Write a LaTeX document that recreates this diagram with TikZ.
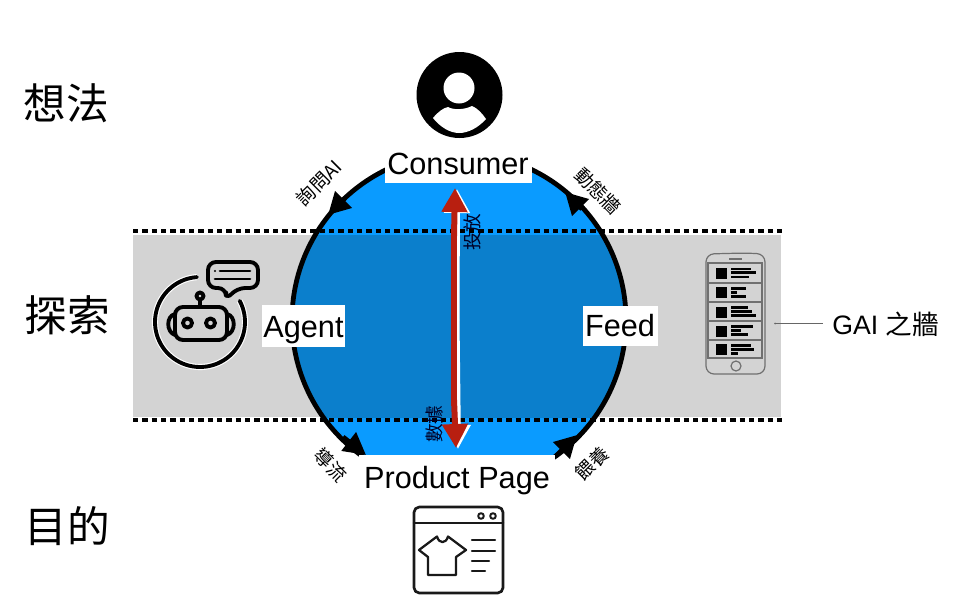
\documentclass[tikz,border=0pt]{standalone}
\usepackage{fontspec}
\setmainfont{Liberation Sans}
\newfontfamily\cjkfont{Noto Sans CJK TC}
\usetikzlibrary{arrows.meta}
\definecolor{skyb}{HTML}{0A9BFF}
\definecolor{darkb}{HTML}{0B7FCC}
\definecolor{bandg}{HTML}{D3D3D3}
\definecolor{arrred}{HTML}{B81F10}
\definecolor{phoneg}{HTML}{707070}
\tikzset{
  px/.style={x=0.75pt,y=-0.75pt},
  namebox/.style={fill=white,inner sep=0pt,font=\fontsize{23}{25}\selectfont},
  nametext/.style={inner sep=0pt,font=\fontsize{23}{25}\selectfont},
  rowlabel/.style={inner sep=0pt,font=\cjkfont\fontsize{32}{34}\selectfont},
  smalllabel/.style={inner sep=0pt,font=\cjkfont\fontsize{14}{16}\selectfont},
  doted/.style={line width=3.6pt,dash pattern=on 4.1pt off 2.9pt},
  looparrow/.style={line width=3.6pt,-{Triangle[length=16.5pt,width=17pt]}},
  redarrow/.style={line width=4.5pt,-{Triangle[length=18pt,width=18.5pt]},arrred},
  whitearrow/.style={line width=4.5pt,-{Triangle[length=18pt,width=18.5pt]},white},
  icon/.style={line width=2.9pt,line join=round,line cap=round},
  halo/.style={line width=4.6pt,white,line join=round},
  pageicon/.style={line width=2pt,line join=round,line cap=round,black!90},
  rowbar/.style={line width=1.9pt,black},
}
\begin{document}
\begin{tikzpicture}[px]
\useasboundingbox (0,0) rectangle (960,607);
\coordinate (c) at (459,320);
\fill[bandg] (133,235) rectangle (781,417);
\fill[skyb] (c) circle[radius=167];
\begin{scope}
  \clip (133,235) rectangle (781,417);
  \fill[darkb] (c) circle[radius=167];
\end{scope}
\draw[line width=3.6pt] (c) circle[radius=167];
% dotted boundaries
\coordinate (d1a) at (133,231); \coordinate (d1b) at (784,231);
\coordinate (d2a) at (133,420); \coordinate (d2b) at (784,420);
\draw[doted] (d1a) -- (d1b);
\draw[doted] (d2a) -- (d2b);
% loop arrows
\coordinate (a1s) at (345,198); \coordinate (a1e) at (328,215);
\coordinate (a2s) at (582,209); \coordinate (a2e) at (565,192);
\coordinate (a3s) at (343,437); \coordinate (a3e) at (366,455);
\coordinate (a4s) at (556,456); \coordinate (a4e) at (577,435);
\draw[looparrow] (a1s) -- (a1e);
\draw[looparrow] (a2s) -- (a2e);
% boxes
\node[namebox,minimum width=110.5pt,minimum height=25.5pt] (consumer) at (458.5,166) {};
\node[namebox,minimum width=147pt,minimum height=31pt] (product) at (457,476) {};
\draw[looparrow] (a3s) -- (a3e);
\draw[looparrow] (a4s) -- (a4e);
\node[nametext] (consumertxt) at (458,164) {Consumer};
\node[nametext] (producttxt) at (457,480.5) {Product Page};
\node[namebox,minimum width=62.5pt,minimum height=31.5pt] (agent) at (303.5,326) {};
\node[nametext] (agenttxt) at (303.5,330.5) {Agent};
\node[namebox,minimum width=56pt,minimum height=30pt] (feed) at (620.5,326) {};
\node[nametext] (feedtxt) at (620,326) {Feed};
% red arrow
\coordinate (rt) at (454,236); \coordinate (rte) at (455,188);
\coordinate (rb) at (454,400); \coordinate (rbe) at (456,448);
\coordinate (wm) at (456.5,320); \coordinate (wte) at (457,189);
\coordinate (wbe) at (458,449);
\draw[whitearrow] (wm) -- (wte);
\draw[whitearrow] (wm) -- (wbe);
\draw[redarrow] (rt) -- (rte);
\draw[redarrow] (rb) -- (rbe);
\draw[line width=4.5pt,arrred] (rt) -- (rb);
% labels
\node[rowlabel] (xiangfa) at (66,103) {想法};
\node[rowlabel] (tansuo) at (67,315) {探索};
\node[rowlabel] (mude) at (67,526) {目的};
\node[smalllabel,rotate=45] (l1) at (319,183) {詢問AI};
\node[smalllabel,rotate=-45] (l2) at (598,191) {動態牆};
\node[smalllabel,rotate=-45] (l3) at (331,465) {導流};
\node[smalllabel,rotate=45] (l4) at (592,463) {餵養};
\node[smalllabel,rotate=90,text=black!85!blue] (l5) at (472,232) {投放};
\node[smalllabel,rotate=90,text=black!85!blue] (l6) at (434,424) {數據};
\node[inner sep=0pt,anchor=west,font=\fontsize{20}{22}\selectfont] (gai) at (832,324) {GAI {\cjkfont 之牆}};
\coordinate (gs) at (775,323.5); \coordinate (ge) at (823,323.5);
\draw[line width=.6pt,black!60] (gs) -- (ge);
\fill[black!60] (gs) circle[radius=1];
% person icon
\fill (459.5,95) circle[radius=43];
\fill[white] (459,88) circle[radius=15.5];
\fill[white] (433,118) .. controls (438,112) and (443,108) .. (448,107) .. controls (453,110) and (464,110) .. (472,106) .. controls (477,108) and (482,113) .. (486,119) .. controls (478,128) and (468,133) .. (459,133) .. controls (450,133) and (440,127) .. (433,118) -- cycle;
% robot icon
\draw[halo] plot[domain=-28:266,samples=70] ({200+45*cos(\x)},{322+45*sin(\x)});
\draw[icon] plot[domain=-28:266,samples=70] ({200+45*cos(\x)},{322+45*sin(\x)});
\draw[icon,rounded corners=6pt] (175,307) rectangle (227,340);
\draw[icon] (175,314) .. controls (166,316) and (166,332) .. (175,335);
\draw[icon] (227,314) .. controls (236,316) and (236,332) .. (227,335);
\draw[icon] (187.5,323) circle[radius=4.5];
\draw[icon] (210.5,323) circle[radius=4.5];
\draw[icon] (200,296) circle[radius=3.5];
\draw[icon] (200,300) -- (200,307);
\draw[icon,rounded corners=6pt,fill=bandg] (208,262) -- (258,262) -- (258,288) -- (237,288) -- (226,300) -- (226,288) -- (208,288) -- cycle;
\draw[icon,line width=2pt] (220,271) -- (250,271);
\draw[icon,line width=2pt] (215,279) -- (250,279);
\fill (215,271) circle[radius=1.2];
% phone icon
\begin{scope}[line width=.9pt,draw=phoneg]
  \draw[rounded corners=6pt] (706,254) -- (745,253) -- (765,254) -- (765,374) -- (706,374) -- cycle;
  \draw (708,263) rectangle (762,358);
  \foreach \yy in {283,302,321,340} \draw (708,\yy) -- (762,\yy);
  \draw[line width=1.1pt] (729,259) -- (742,259);
  \draw (736,366) circle[radius=5];
\end{scope}
\foreach \yy in {267.7,287.3,306.7,325.7,344.3}
  \fill (716,\yy) rectangle (726.5,\yy+11);
\foreach \yy/\xx in {269/750.7,272.7/755.7,277/749,288.3/746,292.3/736.7,296.3/746,307.7/748.3,311.7/751.7,315.7/755.7,326.7/753.3,330.3/741,334.3/747.7,345.7/750.7,349.3/754.3,353.3/738.3}
  \draw[rowbar] (731,\yy) -- (\xx,\yy);
% page icon
\draw[pageicon,rounded corners=4pt] (414,507) rectangle (503,593);
\draw[pageicon] (414,523) -- (503,523);
\draw[pageicon,line width=1.5pt] (481,516) circle[radius=2.8];
\draw[pageicon,line width=1.5pt] (493,516) circle[radius=2.8];
\draw[pageicon,line width=1.7pt] (437,536.5) -- (419,550) -- (428,557) -- (428,575) -- (456,575) -- (456,557) -- (466,550) -- (448,536.5) .. controls (446,544) and (439,544) .. (437,536.5) -- cycle;
\foreach \yy/\xx in {540/495,551/495,561/489,571/485}
  \draw[pageicon,line width=1.7pt] (472,\yy) -- (\xx,\yy);
\end{tikzpicture}
\end{document}
